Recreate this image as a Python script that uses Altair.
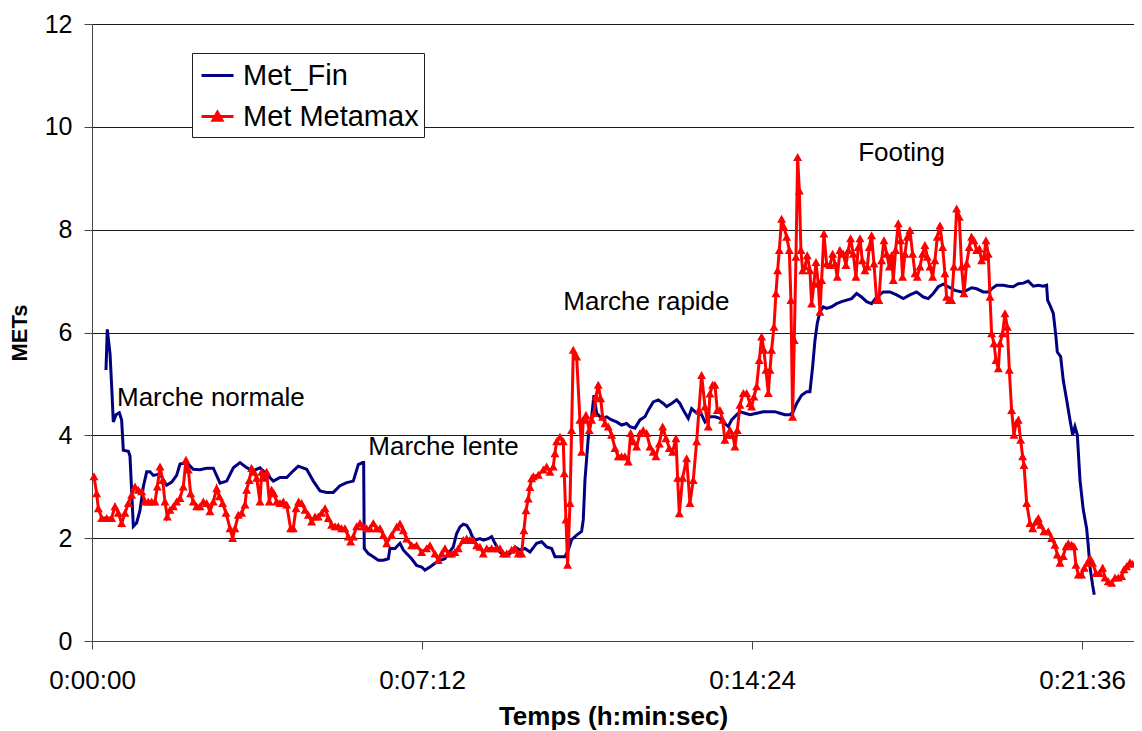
import altair as alt
import pandas as pd

# ---- Met_Fin (blue) : time in seconds, METs ----
fin_t = [18.3, 20.0, 23.6, 25.8, 27.9, 31.4, 35.8, 38.8, 41.0, 47.6, 49.7, 54.1, 58.5, 62.8, 67.2, 71.6,
         75.9, 80.3, 89.0, 97.7, 104.3, 110.8, 115.2, 124.0, 132.6, 141.4, 150.1, 158.8, 167.6, 176.3,
         185.0, 193.7, 202.5, 211.2, 219.9, 228.7, 237.4, 246.1, 254.9, 263.5, 270.0, 281.0, 289.7,
         298.5, 307.2, 315.9, 324.6, 333.4, 342.0, 348.6, 354.3, 355.6, 356.4, 361.7, 368.2, 374.8,
         381.3, 387.9, 390.0, 396.6, 403.1, 407.5, 411.8, 418.4, 424.9, 431.5, 435.8, 442.4, 448.9,
         455.5, 462.0, 466.4, 472.9, 477.3, 481.7, 486.0, 490.4, 494.7, 496.9, 501.3, 507.8, 512.2,
         518.7, 523.1, 527.5, 534.0, 540.6, 547.1, 553.6, 560.2, 566.7, 573.3, 582.0, 588.6, 595.1,
         601.7, 606.0, 612.6, 619.1, 623.5, 627.8, 634.4, 640.9, 643.1, 645.3, 649.7, 654.0, 657.1,
         660.6, 667.1, 673.7, 680.2, 686.7, 693.3, 699.8, 704.2, 710.7, 717.3, 723.8, 728.2, 734.7,
         741.3, 747.8, 752.2, 758.7, 765.3, 769.6, 774.0, 780.5, 784.9, 791.5, 798.0, 802.4, 808.9,
         815.4, 822.0, 828.5, 832.9, 837.3, 843.8, 848.2, 854.7, 861.3, 870.0, 878.7, 887.5, 894.0,
         900.5, 907.1, 913.6, 918.0, 922.4, 928.9, 935.5, 939.8, 943.3, 946.4, 949.4, 952.9, 957.3,
         961.6, 968.2, 974.7, 981.3, 987.8, 994.4, 1000.9, 1007.4, 1014.0, 1020.5, 1027.1, 1035.8,
         1044.5, 1053.3, 1062.0, 1070.7, 1079.4, 1088.2, 1094.7, 1101.2, 1107.8, 1114.3, 1120.9,
         1129.6, 1138.4, 1144.9, 1151.5, 1158.0, 1166.7, 1173.3, 1177.6, 1184.2, 1192.9, 1199.5,
         1206.0, 1212.5, 1219.1, 1225.6, 1232.2, 1238.7, 1245.3, 1249.6, 1250.9, 1254.0, 1258.4,
         1261.8, 1263.6, 1268.0, 1271.4, 1275.8, 1280.2, 1283.7, 1286.7, 1289.8, 1293.3, 1297.6,
         1302.0, 1304.2, 1306.3, 1309.8, 1312.0]
fin_v = [5.27, 6.06, 5.59, 4.94, 4.26, 4.40, 4.44, 4.30, 3.71, 3.69, 3.60, 2.23, 2.30, 2.54, 3.00, 3.29,
         3.29, 3.22, 3.25, 3.03, 3.09, 3.22, 3.44, 3.47, 3.34, 3.33, 3.36, 3.36, 3.07, 3.11,
         3.37, 3.47, 3.37, 3.31, 3.37, 3.24, 3.11, 3.18, 3.18, 3.31, 3.40, 3.34, 3.11,
         2.92, 2.89, 2.89, 3.02, 3.08, 3.11, 3.43, 3.47, 3.47, 1.80, 1.70, 1.64, 1.57,
         1.57, 1.60, 1.80, 1.80, 1.90, 1.77, 1.70, 1.60, 1.47, 1.44, 1.38, 1.44, 1.51,
         1.57, 1.60, 1.70, 1.83, 2.09, 2.22, 2.27, 2.25, 2.15, 2.06, 1.96, 1.99, 1.96,
         1.99, 2.03, 1.90, 1.73, 1.67, 1.70, 1.83, 1.77, 1.80, 1.73, 1.90, 1.93, 1.83,
         1.80, 1.64, 1.64, 1.64, 1.77, 1.97, 2.06, 2.13, 2.36, 3.13, 3.97, 4.36, 4.78,
         4.43, 4.33, 4.36, 4.30, 4.26, 4.20, 4.23, 4.17, 4.14, 4.30, 4.36, 4.49, 4.65,
         4.69, 4.62, 4.56, 4.62, 4.69, 4.62, 4.49, 4.33, 4.52, 4.43, 4.40, 4.26, 4.36,
         4.36, 4.33, 4.23, 4.17, 4.30, 4.40, 4.46, 4.43, 4.40, 4.43, 4.46, 4.46, 4.46,
         4.43, 4.40, 4.40, 4.46, 4.62, 4.78, 4.85, 4.85, 5.33, 5.85, 6.18, 6.40, 6.50,
         6.47, 6.50, 6.56, 6.60, 6.63, 6.66, 6.76, 6.69, 6.60, 6.56, 6.69, 6.79,
         6.79, 6.73, 6.66, 6.73, 6.79, 6.69, 6.66, 6.76, 6.89, 6.94, 6.89,
         6.82, 6.79, 6.82, 6.87, 6.85, 6.79, 6.79, 6.85, 6.92, 6.92, 6.90,
         6.89, 6.95, 6.96, 7.00, 6.90, 6.92, 6.90, 6.92, 6.63, 6.53, 6.37,
         5.92, 5.62, 5.53, 5.07, 4.69, 4.30, 4.01, 4.17, 4.01, 3.13, 2.55,
         2.19, 1.84, 1.45, 1.09, 0.90]

# ---- Met Metamax (red, triangles) : time in seconds, METs ----
max_t = [2.6, 6.1, 8.3, 12.7, 19.2, 25.7, 30.1, 34.5, 38.8, 43.2, 47.6, 51.9, 56.3, 60.6, 65.0, 69.4,
         73.7, 78.1, 82.5, 85.5, 89.0, 92.5, 95.5, 98.6, 102.1, 106.5, 110.8, 115.2, 119.5, 123.0,
         126.1, 129.1, 132.6, 137.0, 141.4, 145.7, 150.1, 154.4, 158.8, 163.2, 166.7, 171.0, 175.4,
         180.6, 184.1, 187.2, 191.5, 195.9, 200.3, 202.4, 205.9, 209.0, 212.0, 215.5, 219.9, 222.1,
         225.1, 228.6, 232.1, 235.2, 238.2, 241.7, 246.1, 250.4, 254.8, 260.0, 263.5, 267.0, 270.5,
         274.4, 278.8, 283.2, 287.5, 291.9, 296.2, 300.6, 305.0, 309.3, 313.7, 318.1, 322.4, 326.8,
         331.1, 335.5, 338.6, 342.1, 346.4, 350.8, 355.1, 359.5, 363.9, 368.2, 372.6, 377.0,
         381.3, 385.7, 392.2, 398.8, 403.1, 407.5, 411.8, 418.4, 424.9, 431.5, 438.0, 442.4, 448.9,
         453.3, 457.7, 462.0, 466.4, 470.7, 475.1, 479.5, 486.0, 490.4, 494.7, 499.1, 503.5, 507.8,
         512.2, 516.6, 523.1, 529.7, 534.0, 538.4, 542.7, 549.3, 553.6, 558.0, 562.4, 565.4, 568.1,
         571.1, 573.3, 575.5,
         577.7, 584.2, 590.8, 595.1, 599.5, 603.8, 606.0, 608.2, 612.6, 616.9, 618.2, 620.4, 622.6,
         625.7, 627.8, 630.0, 634.4, 638.7, 640.9, 643.1, 646.6, 651.0, 654.0, 657.1, 659.7, 662.7,
         665.8, 668.4, 671.5, 675.8, 680.2, 684.6, 688.9, 693.3, 697.6, 702.0, 705.1, 708.6, 712.9,
         717.3, 721.6, 726.0, 730.4, 734.7, 738.2, 742.6, 747.0, 751.3, 755.7, 760.0, 764.4, 766.6,
         768.8, 773.1, 778.4, 782.7, 787.1, 791.5, 794.5, 798.0, 802.4, 806.7, 808.9, 812.4, 815.4,
         818.5, 822.0, 825.5, 828.5, 832.0, 835.1, 838.6, 841.6, 844.7, 848.2,
         852.6, 856.9, 861.3, 863.5, 866.5, 870.0, 873.5, 876.5, 879.6, 882.2, 885.3, 887.5, 889.6,
         892.7, 895.3, 897.5, 899.7, 902.7, 905.8, 909.3, 912.8, 914.9, 917.1, 919.3, 921.5, 923.7,
         925.9, 928.0, 930.2, 933.3, 936.3, 939.8, 942.0, 945.0, 947.7, 950.7, 952.9, 955.1, 958.1,
         961.6, 966.0, 969.5, 972.5, 975.6, 979.1, 983.4, 986.9, 990.0, 993.0, 996.5, 1000.0,
         1003.1, 1005.3, 1008.3, 1011.8, 1014.9, 1017.5, 1020.5, 1023.6, 1027.1, 1030.1, 1033.6,
         1036.7, 1040.2, 1043.7, 1046.7, 1048.9, 1051.9, 1055.4, 1058.5, 1061.1, 1064.2, 1067.2,
         1070.7, 1074.2, 1077.3, 1080.3, 1083.8, 1087.3, 1090.3, 1093.4, 1096.9, 1100.4, 1103.4,
         1106.5, 1110.0, 1113.5, 1116.5, 1118.7, 1122.2, 1125.2, 1128.3, 1131.8, 1135.3, 1138.3,
         1141.4, 1144.9, 1148.4, 1151.4, 1154.5, 1158.0, 1161.5, 1164.5, 1167.6, 1170.2, 1173.2,
         1175.5, 1177.6, 1180.7, 1183.3, 1186.4, 1188.5, 1192.0, 1195.1, 1198.1, 1200.8, 1203.8,
         1206.9, 1209.5, 1212.5, 1215.6, 1218.2, 1220.0, 1223.5, 1227.8, 1231.3, 1235.7, 1238.7,
         1241.8, 1246.1, 1251.8, 1256.2, 1260.5, 1263.6, 1267.1, 1271.4, 1274.9, 1278.0, 1282.4,
         1285.4, 1288.0, 1291.1, 1295.4, 1298.9, 1302.9, 1306.4, 1309.8, 1314.2, 1318.6, 1322.9,
         1326.0, 1330.3, 1334.7, 1339.1, 1343.4, 1347.8, 1350.9, 1354.3, 1358.7, 1362.0]
max_v = [3.20, 2.87, 2.58, 2.39, 2.39, 2.39, 2.62, 2.49, 2.29, 2.49, 2.68, 2.84, 3.00, 2.94, 2.91, 2.71,
         2.71, 2.71, 2.71, 3.00, 3.39, 3.13, 2.71, 2.42, 2.55, 2.62, 2.71, 2.78, 3.00, 3.52,
         3.33, 2.87, 2.71, 2.62, 2.62, 2.71, 2.68, 2.52, 2.71, 2.97, 2.81, 2.68, 2.49,
         2.19, 2.00, 2.19, 2.45, 2.49, 2.65, 2.94, 3.13, 3.36, 3.29, 3.17, 2.71, 3.29,
         3.17, 3.29, 2.71, 2.94, 2.87, 2.71, 2.68, 2.71, 2.65, 2.19, 2.19, 2.58, 2.71,
         2.68, 2.55, 2.45, 2.32, 2.42, 2.42, 2.49, 2.58, 2.39, 2.26, 2.23, 2.23, 2.19,
         2.19, 2.03, 1.93, 2.03, 2.23, 2.29, 2.23, 2.19, 2.19, 2.29, 2.19, 2.19,
         2.06, 1.90, 2.06, 2.22, 2.28, 2.15, 1.99, 1.86, 1.86, 1.73, 1.80, 1.86, 1.70,
         1.57, 1.70, 1.80, 1.70, 1.70, 1.73, 1.80, 1.96, 1.99, 1.96, 1.96, 1.86, 1.83,
         1.70, 1.80, 1.80, 1.80, 1.80, 1.70, 1.70, 1.77, 1.80, 1.70, 1.70, 2.15, 2.54,
         2.77, 2.99, 3.16,
         3.20, 3.23, 3.33, 3.39, 3.29, 3.39, 3.65, 3.88, 3.97, 3.88, 3.26, 2.36, 1.48,
         2.68, 4.10, 5.66, 5.53, 4.30, 3.68, 4.30, 4.39, 4.10, 4.30, 4.43, 4.75, 4.98,
         4.72, 4.36, 4.23, 4.17, 4.01, 3.75, 3.59, 3.59, 3.59, 3.49, 4.04, 3.88, 3.78,
         4.04, 4.10, 4.04, 3.78, 3.68, 3.59, 3.84, 4.17, 3.94, 3.75, 3.68, 3.94, 3.17,
         2.48, 3.17, 3.55, 2.68, 3.13, 3.88, 4.49, 5.17, 4.56, 4.17, 4.81, 4.98, 4.98,
         4.49, 4.49, 4.30, 3.91, 4.01, 4.10, 4.01, 3.78, 4.10, 4.59,
         4.82, 4.82, 4.62, 4.56, 4.75, 4.95, 5.46, 5.92, 5.66, 5.27, 4.82, 5.27, 5.66,
         6.11, 6.76, 7.21, 7.60, 8.21, 8.05, 7.86, 7.60, 6.63, 4.36, 5.85, 7.47, 9.41,
         8.76, 7.60, 7.21, 7.28, 7.50, 7.21, 6.56, 6.95, 7.37, 6.95, 6.40, 7.02, 7.92,
         7.34, 7.31, 7.53, 7.34, 7.08, 7.60, 7.53, 7.31, 7.60, 7.83, 7.53, 7.08,
         7.66, 7.83, 7.40, 7.21, 7.28, 7.66, 7.89, 7.34, 6.63, 6.63, 7.40,
         7.79, 7.53, 7.28, 7.50, 7.02, 7.60, 8.12, 7.79, 7.08, 7.53, 7.86,
         7.99, 7.53, 7.15, 7.08, 7.28, 7.53, 7.70, 7.47, 7.28, 7.08, 7.40,
         7.86, 8.08, 7.66, 7.15, 6.69, 6.63, 6.63, 7.28, 8.41, 8.25, 7.28,
         6.76, 7.34, 7.66, 7.86, 7.79, 7.60, 7.63, 7.40, 7.47, 7.79, 7.53,
         6.69, 5.98, 5.79, 5.46, 5.30, 5.79, 5.98, 6.37, 6.11, 5.27, 4.49,
         4.01, 4.23, 4.30, 3.91, 3.59, 3.42, 2.68, 2.29, 2.19, 2.32, 2.39,
         2.26, 2.13, 2.13, 2.00, 1.87, 1.68, 1.52, 1.65, 1.84, 1.90, 1.87,
         1.84, 1.48, 1.29, 1.29, 1.42, 1.52, 1.61, 1.52, 1.32, 1.32, 1.42,
         1.23, 1.16, 1.13, 1.23, 1.23, 1.26, 1.39, 1.45, 1.53, 1.50]

# ---- annotations ----
note_text = ["Marche normale", "Marche lente", "Marche rapide", "Footing"]
note_t = [32.7, 361.7, 617.0, 1003.0]
note_v = [4.58, 3.61, 6.43, 9.34]

series_names = ["Met_Fin", "Met Metamax"]
series_colors = ["#000080", "#FF0000"]
x_ticks = [0, 432, 864, 1296]
y_ticks = [0, 2, 4, 6, 8, 10, 12]

FONT = "Liberation Sans"

fin_df = pd.DataFrame({"t": fin_t, "v": fin_v, "series": "Met_Fin"})
max_df = pd.DataFrame({"t": max_t, "v": max_v, "series": "Met Metamax"})
note_df = pd.DataFrame({"label": note_text, "t": note_t, "v": note_v})

label_expr = ("floor(datum.value/3600) + ':' + (floor(datum.value/60)%60 < 10 ? '0' : '') + "
              "(floor(datum.value/60)%60) + ':' + (round(datum.value)%60 < 10 ? '0' : '') + "
              "(round(datum.value)%60)")

x_enc = alt.X("t:Q",
              scale=alt.Scale(domain=[0, 1364], nice=False, zero=True),
              axis=alt.Axis(values=x_ticks, labelExpr=label_expr, grid=False,
                            tickSize=8, tickColor="#444", domainColor="#444",
                            labelFont=FONT, labelFontSize=26, labelColor="black",
                            labelPadding=18, labelFlush=False,
                            title="Temps (h:min:sec)", titleFont=FONT, titleFontSize=26,
                            titleFontWeight="bold", titleColor="black",
                            titleY=83, titleBaseline="alphabetic"))
y_enc = alt.Y("v:Q",
              scale=alt.Scale(domain=[0, 12], nice=False),
              axis=alt.Axis(values=y_ticks, grid=True, gridColor="#1a1a1a", gridWidth=1,
                            tickSize=8, tickColor="#444", domainColor="#444",
                            labelFont=FONT, labelFontSize=25, labelColor="black",
                            labelPadding=12,
                            title="METs", titleFont=FONT, titleFontSize=22,
                            titleFontWeight="bold", titleColor="black",
                            titleX=-66, titleBaseline="alphabetic"))

fin_line = alt.Chart(fin_df).mark_line(color="#000080", strokeWidth=3).encode(
    x=x_enc, y=y_enc, order="t:Q")

max_line = alt.Chart(max_df).mark_line(color="#FF0000", strokeWidth=3).encode(
    x="t:Q", y="v:Q", order="t:Q")

shape_paths = ["M-1,0H1", "M-1,0H1M-0.28,0.24L0,-0.26L0.28,0.24Z"]
legend = alt.Legend(title=None, orient="none", legendX=100, legendY=29,
                    padding=5, symbolOffset=3, rowPadding=8, labelOffset=8,
                    symbolSize=1024, symbolStrokeWidth=3, labelLimit=400,
                    labelFont=FONT, labelFontSize=29, labelColor="black",
                    strokeColor="#222", fillColor="white")
max_pts = alt.Chart(max_df).mark_point(filled=True, size=1024, strokeWidth=0, opacity=1).encode(
    x="t:Q", y="v:Q",
    fill=alt.Fill("series:N", scale=alt.Scale(domain=series_names, range=series_colors), legend=legend),
    stroke=alt.Stroke("series:N", scale=alt.Scale(domain=series_names, range=series_colors), legend=legend),
    shape=alt.Shape("series:N", scale=alt.Scale(domain=series_names, range=shape_paths), legend=legend),
)

notes = alt.Chart(note_df).mark_text(align="left", baseline="alphabetic", font=FONT,
                                     fontSize=26, color="black").encode(
    x="t:Q", y="v:Q", text="label:N")

chart = alt.layer(fin_line, max_line, max_pts, notes).properties(
    width=1042, height=617,
    autosize=alt.AutoSizeParams(type="none"),
    padding={"left": 84, "top": 16, "right": 0, "bottom": 90},
    background="white",
).configure_view(stroke=None)

chart.save("out.html", embed_options={"renderer": "svg", "actions": False})
